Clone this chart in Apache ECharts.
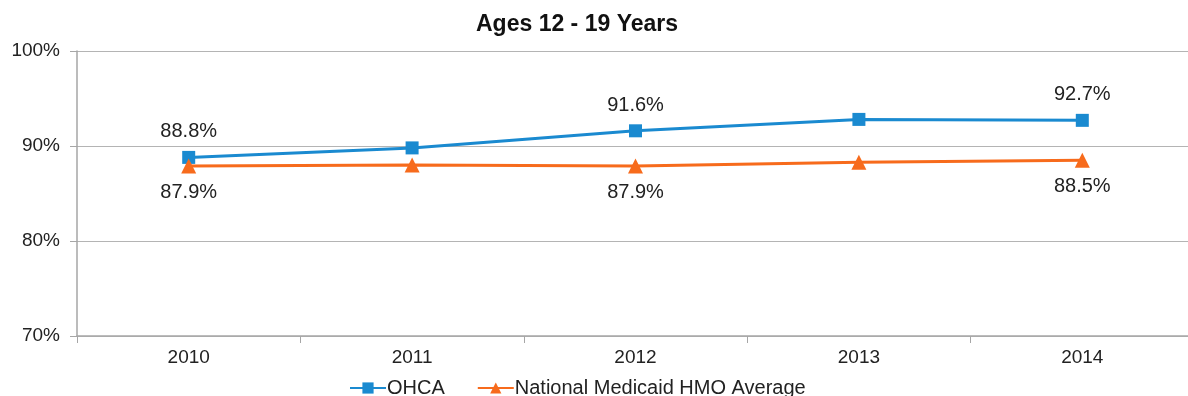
<!DOCTYPE html>
<html>
<head>
<meta charset="utf-8">
<script src="https://cdn.jsdelivr.net/npm/echarts@6/dist/echarts.min.js"></script>
<style>
  html, body { margin: 0; padding: 0; overflow: hidden; background: #fff; }
  #chart { width: 1194px; height: 396px; }
</style>
</head>
<body>
<div id="chart"></div>
<script>
const years = ["2010", "2011", "2012", "2013", "2014"];
const ohca = [88.8, 89.8, 91.6, 92.8, 92.7];
const nationalAvg = [87.9, 88.0, 87.9, 88.3, 88.5];
const labelledIdx = [0, 2, 4];
const yTicks = [70, 80, 90, 100];

const blue = "#1a8ad0";
const orange = "#f76b1c";
const font = "Liberation Sans, Arial, sans-serif";

const withLabels = (values, pos, dist) =>
    values.map((v, i) => ({
        value: v,
        label: {
            show: labelledIdx.includes(i),
            position: pos,
            distance: dist,
            formatter: (p) => p.value.toFixed(1) + "%",
            fontSize: 20,
            color: "#222",
            fontFamily: font
        }
    }));

const chart = echarts.init(document.getElementById("chart"));

chart.setOption({
    animation: false,
    title: {
        text: "Ages 12 - 19 Years",
        left: 471,
        top: 8,
        textStyle: { fontSize: 23, fontWeight: "bold", color: "#111", fontFamily: font }
    },
    legend: {
        left: 344,
        top: 373,
        itemWidth: 36,
        itemHeight: 14,
        itemGap: 32,
        textStyle: { fontSize: 20, color: "#222", fontFamily: font, padding: [0, 0, 0, -4] },
        data: ["OHCA", "National Medicaid HMO Average"]
    },
    grid: { left: 77, right: 0, top: 51, bottom: 60 },
    xAxis: {
        type: "category",
        data: years,
        boundaryGap: true,
        axisLine: { lineStyle: { color: "#a6a6a6", width: 1.5 } },
        axisTick: { show: true, length: 7, lineStyle: { color: "#a6a6a6" } },
        axisLabel: { fontSize: 19, color: "#222", margin: 12, fontFamily: font }
    },
    yAxis: {
        type: "value",
        min: yTicks[0],
        max: yTicks[yTicks.length - 1],
        interval: 10,
        axisLine: { show: true, lineStyle: { color: "#a6a6a6", width: 1.5 } },
        axisTick: { show: true, length: 7, lineStyle: { color: "#a6a6a6" } },
        splitLine: { lineStyle: { color: "#b4b4b4", width: 1.2 } },
        axisLabel: { fontSize: 19, color: "#222", margin: 17, fontFamily: font, formatter: (v) => v + "%" }
    },
    series: [
        {
            name: "OHCA",
            type: "line",
            data: withLabels(ohca, "top", 9),
            symbol: "rect",
            symbolSize: 13,
            color: blue,
            lineStyle: { width: 3, color: blue },
            itemStyle: { color: blue }
        },
        {
            name: "National Medicaid HMO Average",
            type: "line",
            data: withLabels(nationalAvg, "bottom", 9),
            symbol: "triangle",
            symbolSize: 15,
            color: orange,
            lineStyle: { width: 3, color: orange },
            itemStyle: { color: orange }
        }
    ]
});
</script>
</body>
</html>
